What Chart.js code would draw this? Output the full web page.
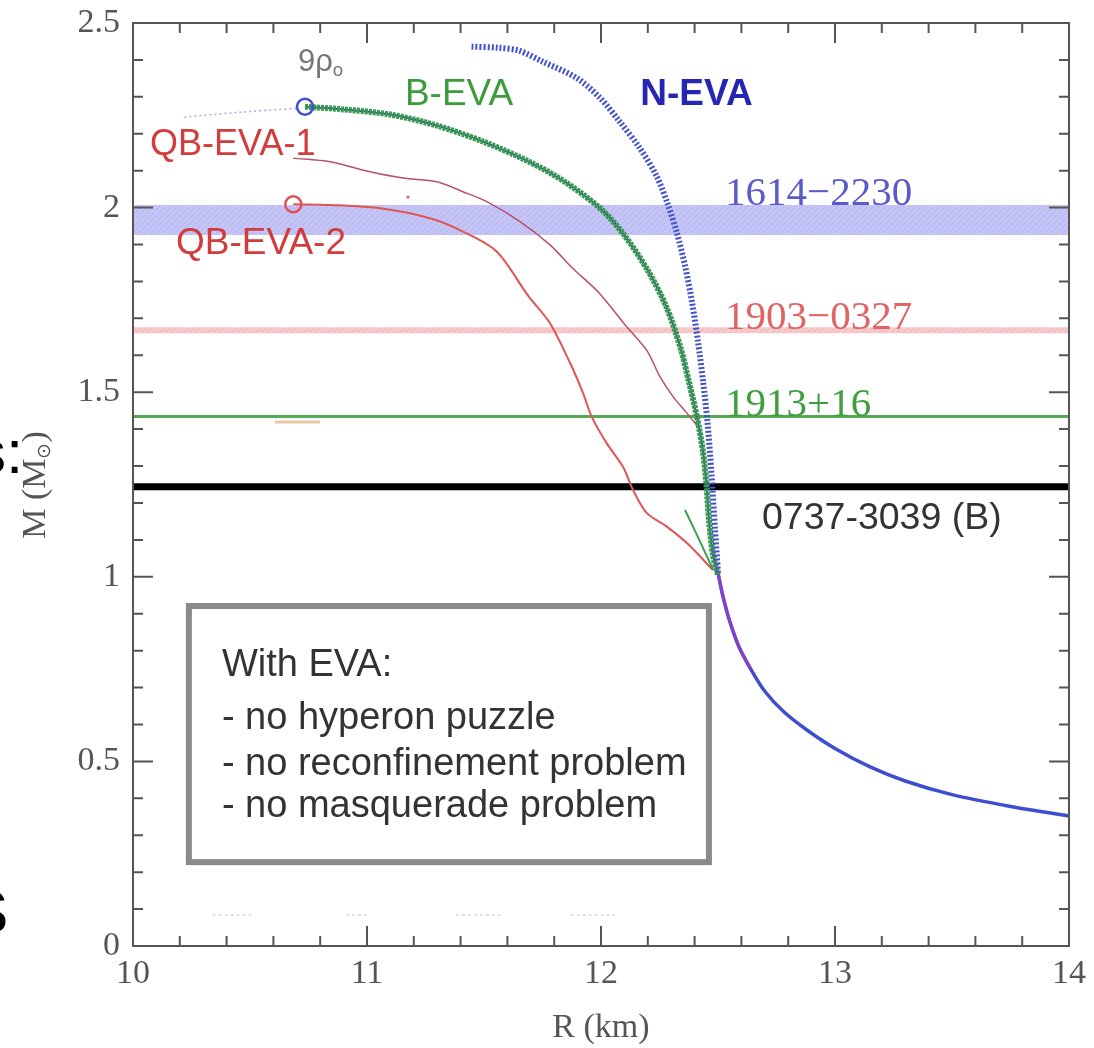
<!DOCTYPE html>
<html>
<head>
<meta charset="utf-8">
<script src="https://cdn.jsdelivr.net/npm/chart.js@4.4.1/dist/chart.umd.min.js"></script>
<style>
  html, body { margin: 0; padding: 0; background: #fff; }
  #wrap { position: relative; width: 1094px; height: 1048px; overflow: hidden; }
  #wrap canvas { position: absolute; left: 0; top: 0; }
  .note { position: absolute; white-space: nowrap; line-height: 1; transform: translateY(-50%); }
  .sans { font-family: 'Liberation Sans', Arial, sans-serif; }
  .serif { font-family: 'Liberation Serif', 'Times New Roman', serif; }
  .note sub { font-size: 60%; vertical-align: -0.25em; }
  #ytitle { position: absolute; white-space: nowrap; line-height: 1; color: #555;
            font: 34px 'Liberation Serif', serif; transform: translate(-50%, -50%) rotate(-90deg); }
  #ytitle sub { font-size: 55%; vertical-align: -0.3em; }
  .stray { position: absolute; font: 62px 'Liberation Sans', Arial, sans-serif; color: #000; line-height: 1; }
</style>
</head>
<body>
<div id="wrap">
  <canvas id="mrChart" width="1094" height="1048"></canvas>
  <div id="ytitle">M (M<sub>⊙</sub>)</div>
  <div class="stray" style="left:-25px; top:421px;">s:</div>
  <div class="stray" style="left:-33px; top:881px;">S</div>
</div>
<script>
// ── Data (R in km, M in solar masses) ─────────────
const xTicks = [10, 11, 12, 13, 14];
const yTicks = [0, 0.5, 1, 1.5, 2, 2.5];

const nEvaR = [11.447, 11.560, 11.650, 11.752, 11.896, 11.996, 12.081, 12.167, 12.238, 12.285, 12.325, 12.360, 12.390, 12.415, 12.436, 12.455, 12.472, 12.487, 12.500];
const nEvaM = [2.436, 2.433, 2.425, 2.395, 2.351, 2.297, 2.232, 2.160, 2.085, 2.010, 1.930, 1.840, 1.740, 1.635, 1.530, 1.420, 1.280, 1.130, 1.011];

const bEvaR = [10.735, 10.900, 11.100, 11.300, 11.500, 11.700, 11.850, 12.000, 12.100, 12.200, 12.280, 12.340, 12.375, 12.410, 12.435, 12.450, 12.462, 12.478, 12.500];
const bEvaM = [2.273, 2.266, 2.252, 2.222, 2.178, 2.122, 2.068, 1.996, 1.925, 1.830, 1.730, 1.620, 1.530, 1.433, 1.343, 1.254, 1.150, 1.060, 1.005];

const bHookR = [12.359, 12.420, 12.479];
const bHookM = [1.181, 1.100, 1.019];

const qb1R = [10.684, 10.842, 11.013, 11.154, 11.299, 11.410, 11.512, 11.654, 11.782, 11.880, 11.990, 12.110, 12.195, 12.252, 12.308, 12.366, 12.410];
const qb1M = [2.134, 2.124, 2.097, 2.080, 2.070, 2.043, 2.016, 1.962, 1.899, 1.835, 1.770, 1.677, 1.614, 1.542, 1.488, 1.444, 1.410];

const qb2R = [10.685, 10.842, 11.056, 11.269, 11.410, 11.554, 11.690, 11.782, 11.868, 11.923, 11.960, 12.024, 12.094, 12.137, 12.195, 12.281, 12.366, 12.479];
const qb2M = [2.009, 2.007, 1.998, 1.971, 1.935, 1.881, 1.760, 1.687, 1.579, 1.498, 1.434, 1.362, 1.298, 1.235, 1.173, 1.136, 1.092, 1.018];

const tailR = [12.500, 12.520, 12.550, 12.590, 12.640, 12.700, 12.780, 12.880, 13.000, 13.150, 13.300, 13.500, 13.750, 14.000];
const tailM = [1.011, 0.950, 0.880, 0.810, 0.750, 0.690, 0.635, 0.585, 0.535, 0.485, 0.447, 0.410, 0.378, 0.352];

const leadR = [10.22, 10.45, 10.70];
const leadM = [2.245, 2.258, 2.269];

// maximum-mass markers (9 rho_0)
const maxR = [10.735, 10.685];
const maxM = [2.273, 2.009];

// pulsar masses
const psr1614 = [1.926, 2.007];
const psr1903 = [1.660, 1.676];
const psr1913 = 1.434;
const psr0737 = 1.244;

// leftover marks in the scan
const tanR = [10.607, 10.799];
const tanM = 1.419;
const specR = [10.34, 10.52, 10.91, 11.01, 11.38, 11.57, 11.87, 12.06];
const specM = 0.084;

// ── Helpers ───────────────────────────────────────
const pts = (xs, ys) => xs.map((x, i) => ({ x, y: ys[i] }));
const hline = m => [{ x: 10, y: m }, { x: 14, y: m }];
const pairs = (xs, m) => {
    const out = [];
    for (let i = 0; i < xs.length; i += 2) {
        out.push({ x: xs[i], y: m }, { x: xs[i + 1], y: m }, { x: xs[i + 1], y: null });
    }
    return out;
};

function hatch(base, stroke) {
    const c = document.createElement('canvas');
    c.width = c.height = 6;
    const g = c.getContext('2d');
    g.fillStyle = base;
    g.fillRect(0, 0, 6, 6);
    g.strokeStyle = stroke;
    g.lineWidth = 1;
    g.beginPath();
    g.moveTo(0, 6); g.lineTo(6, 0);
    g.stroke();
    return g.createPattern(c, 'repeat');
}

const line = (data, color, width, extra) => Object.assign({
    data, showLine: true, borderColor: color, borderWidth: width,
    pointRadius: 0, tension: 0.3, fill: false
}, extra || {});

// ── Annotations ───────────────────────────────────
const notes = [
    { html: '9ρ<sub>o</sub>', r: 10.705, m: 2.394, cls: 'sans', color: '#777', size: 31 },
    { html: 'B-EVA', r: 11.162, m: 2.313, cls: 'sans', color: '#3c9c3c', size: 37 },
    { html: 'N-EVA', r: 12.168, m: 2.313, cls: 'sans', color: '#2626b4', size: 37, weight: 'bold' },
    { html: 'QB-EVA-1', r: 10.073, m: 2.175, cls: 'sans', color: '#d23c3c', size: 36 },
    { html: 'QB-EVA-2', r: 10.184, m: 1.910, cls: 'sans', color: '#d23c3c', size: 37 },
    { html: '1614−2230', r: 12.530, m: 2.045, cls: 'serif', color: '#5a5ac8', size: 41 },
    { html: '1903−0327', r: 12.530, m: 1.709, cls: 'serif', color: '#e06464', size: 41 },
    { html: '1913+16', r: 12.530, m: 1.473, cls: 'serif', color: '#3f9f3f', size: 41 },
    { html: '0737-3039 (B)', r: 12.688, m: 1.162, cls: 'sans', color: '#333', size: 37.5 },
    { html: 'With EVA:', r: 10.380, m: 0.767, cls: 'sans', color: '#333', size: 38 },
    { html: '- no hyperon puzzle', r: 10.380, m: 0.623, cls: 'sans', color: '#333', size: 38 },
    { html: '- no reconfinement problem', r: 10.380, m: 0.498, cls: 'sans', color: '#333', size: 38 },
    { html: '- no masquerade problem', r: 10.380, m: 0.385, cls: 'sans', color: '#333', size: 38 }
];
const boxR = [10.226, 12.474];
const boxM = [0.219, 0.929];

const wrap = document.getElementById('wrap');
notes.forEach(n => {
    const el = document.createElement('div');
    el.className = 'note ' + n.cls;
    el.innerHTML = n.html;
    el.style.color = n.color;
    el.style.fontSize = n.size + 'px';
    if (n.weight) el.style.fontWeight = n.weight;
    wrap.appendChild(el);
    n.el = el;
});

// ── Plugins ───────────────────────────────────────
const frameTicks = {
    id: 'frameTicks',
    afterDatasetsDraw(chart) {
        const { ctx, chartArea: a, scales: { x, y } } = chart;
        ctx.save();
        // text box
        const bl = x.getPixelForValue(boxR[0]), br = x.getPixelForValue(boxR[1]);
        const bt = y.getPixelForValue(boxM[1]), bb = y.getPixelForValue(boxM[0]);
        ctx.fillStyle = '#fff';
        ctx.fillRect(bl, bt, br - bl, bb - bt);
        ctx.strokeStyle = '#8a8a8a';
        ctx.lineWidth = 6;
        ctx.strokeRect(bl + 3, bt + 3, br - bl - 6, bb - bt - 6);

        // frame with inward ticks on all four sides
        ctx.strokeStyle = '#555';
        ctx.lineWidth = 2;
        ctx.strokeRect(a.left, a.top, a.right - a.left, a.bottom - a.top);
        ctx.beginPath();
        for (let i = 0; i <= 20; i++) {
            const px = x.getPixelForValue(10 + i * 0.2);
            const len = i % 5 === 0 ? 20 : 10;
            ctx.moveTo(px, a.bottom); ctx.lineTo(px, a.bottom - len);
            ctx.moveTo(px, a.top); ctx.lineTo(px, a.top + len);
        }
        for (let i = 0; i <= 25; i++) {
            const py = y.getPixelForValue(i * 0.1);
            const len = i % 5 === 0 ? 20 : 10;
            ctx.moveTo(a.left, py); ctx.lineTo(a.left + len, py);
            ctx.moveTo(a.right, py); ctx.lineTo(a.right - len, py);
        }
        ctx.stroke();
        ctx.restore();
    },
    afterDraw(chart) {
        const { chartArea: a, scales: { x, y } } = chart;
        notes.forEach(n => {
            n.el.style.left = x.getPixelForValue(n.r) + 'px';
            n.el.style.top = y.getPixelForValue(n.m) + 'px';
        });
        const yt = document.getElementById('ytitle');
        yt.style.left = '35px';
        yt.style.top = ((a.top + a.bottom) / 2) + 'px';
    }
};

const tickFont = { family: "'Liberation Serif', serif", size: 34 };

// ── Chart ─────────────────────────────────────────
new Chart(document.getElementById('mrChart'), {
    type: 'scatter',
    data: {
        datasets: [
            { data: pts(maxR, maxM), pointRadius: 8, pointHoverRadius: 8, borderWidth: 2.5,
              pointBackgroundColor: 'rgba(255,255,255,0)', pointBorderColor: ['#4050d0', '#e05050'], order: 0 },
            line(pts(nEvaR, nEvaM), '#4253cc', 6, { borderDash: [2, 2], order: 1 }),
            line(pts(bEvaR, bEvaM), '#3a9a4c', 6, { borderDash: [3, 1], order: 2 }),
            line(pts(bHookR, bHookM), '#3aa04a', 2, { order: 2 }),
            line(pts(tailR.slice(0, 5), tailM.slice(0, 5)), '#8a3fc8', 3, { order: 2 }),
            line(pts(bEvaR, bEvaM), '#2b3fc4', 2, { order: 3 }),
            line(pts(tailR, tailM), '#3d4fcf', 3.5, { order: 3 }),
            line(pts(qb2R, qb2M), '#e05555', 2, { order: 4 }),
            line(pts(qb1R, qb1M), '#b8506a', 1.5, { order: 4 }),
            line(pts(leadR, leadM), 'rgba(90,100,220,0.55)', 1.5, { borderDash: [2, 3], order: 5 }),
            line(hline(psr0737), '#000', 7, { tension: 0, order: 6 }),
            line(hline(psr1913), '#55aa55', 3, { tension: 0, order: 7 }),
            line(hline(psr1903[1]), 'rgba(0,0,0,0)', 0,
                 { tension: 0, fill: '+1', backgroundColor: hatch('#f6caca', '#efb8b8'), order: 8 }),
            line(hline(psr1903[0]), 'rgba(0,0,0,0)', 0, { tension: 0, order: 8 }),
            line(hline(psr1614[1]), 'rgba(0,0,0,0)', 0,
                 { tension: 0, fill: '+1', backgroundColor: hatch('#c4c4f6', '#b4b4ee'), order: 9 }),
            line(hline(psr1614[0]), 'rgba(0,0,0,0)', 0, { tension: 0, order: 9 }),
            line(pts(tanR, [tanM, tanM]), '#e6c8a8', 3, { tension: 0, order: 10 }),
            { data: [{ x: 11.175, y: 2.029 }], pointRadius: 1.5, pointBackgroundColor: '#d06060',
              pointBorderWidth: 0, order: 10 },
            line(pairs(specR, specM), '#d8d8d8', 1.5, { tension: 0, borderDash: [3, 3], spanGaps: false, order: 10 })
        ]
    },
    options: {
        responsive: false,
        animation: false,
        layout: { padding: { top: 23, right: 25, left: 0, bottom: 0 } },
        plugins: { legend: { display: false }, tooltip: { enabled: false } },
        scales: {
            x: {
                type: 'linear', min: 10, max: 14,
                afterBuildTicks: s => { s.ticks = xTicks.map(v => ({ value: v })); },
                afterFit: s => { s.height = 102; s.paddingLeft = 0; s.paddingRight = 0; },
                grid: { display: false, drawTicks: false },
                border: { display: false },
                ticks: { color: '#555', padding: 8, maxRotation: 0, font: tickFont,
                         callback: v => String(v) },
                title: { display: true, text: 'R (km)', color: '#555',
                         padding: { top: 0, bottom: 0 },
                         font: { family: "'Liberation Serif', serif", size: 34 } }
            },
            y: {
                type: 'linear', min: 0, max: 2.5,
                afterBuildTicks: s => { s.ticks = yTicks.map(v => ({ value: v })); },
                afterFit: s => { s.width = 133; s.paddingTop = 0; s.paddingBottom = 0; },
                grid: { display: false, drawTicks: false },
                border: { display: false },
                ticks: { color: '#555', padding: 13, font: tickFont,
                         callback: v => String(v) }
            }
        }
    },
    plugins: [frameTicks]
});
</script>
</body>
</html>
